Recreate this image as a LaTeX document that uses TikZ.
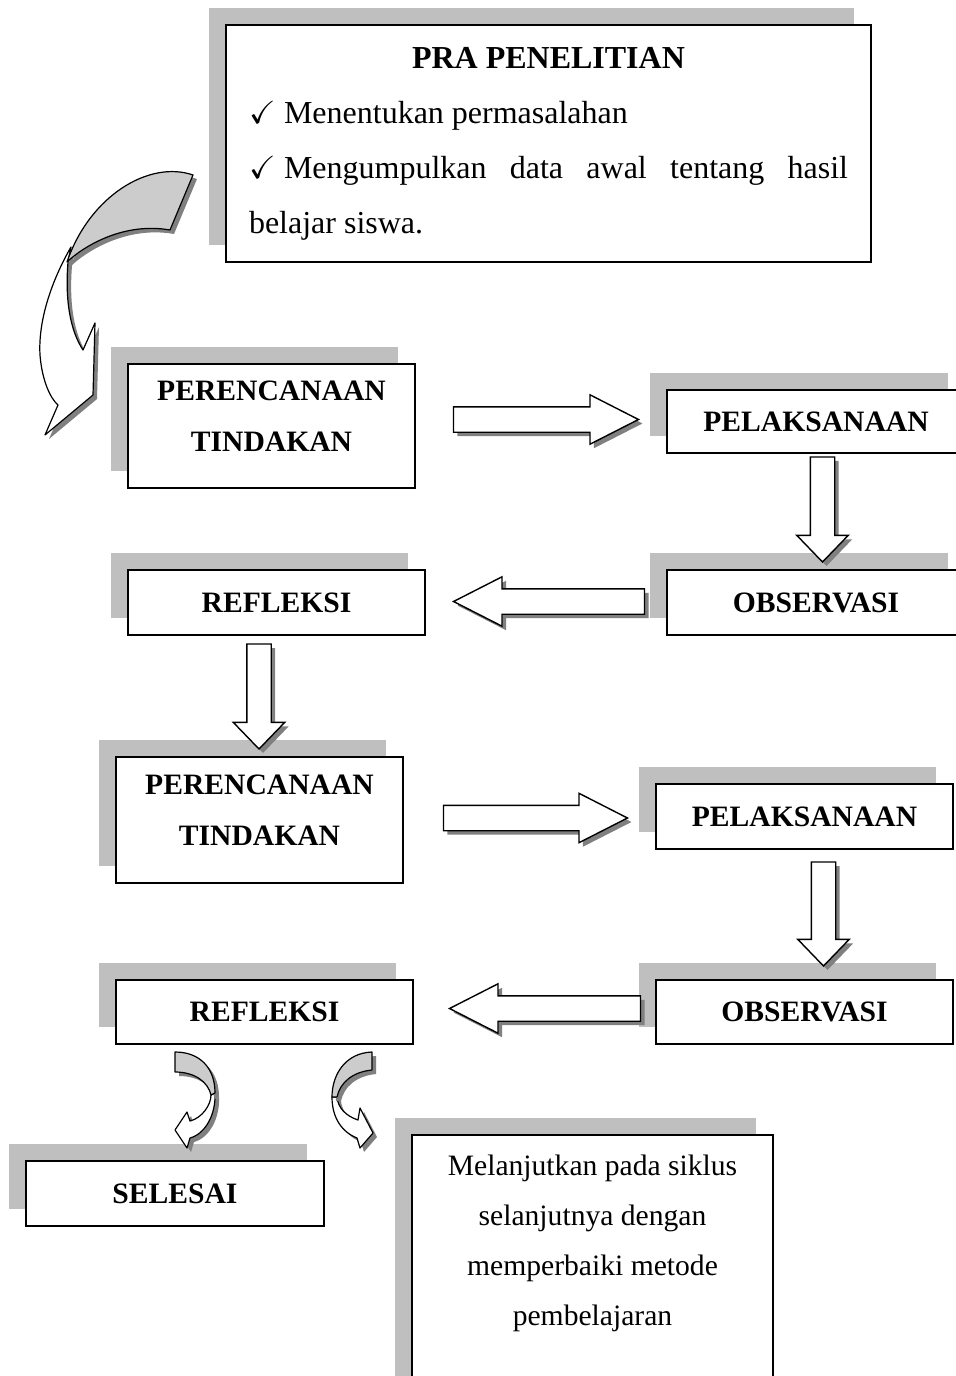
\documentclass[tikz,border=0pt]{standalone}
\usepackage{fontspec}
\setmainfont{Liberation Serif}
\usepackage{amssymb}
\usetikzlibrary{shapes.arrows,shadows}

\tikzset{
  stepbox/.style={draw, line width=0.75pt, fill=white, inner sep=0pt,
    font=\fontsize{14.8}{25.5}\selectfont\bfseries, align=center,
    general shadow={fill=gray!50, shadow xshift=-8.5pt, shadow yshift=8.5pt}},
  notebox/.style={stepbox, font=\fontsize{14.8}{25}\selectfont},
  harrow/.style={single arrow, draw, line width=0.7pt, fill=white, anchor=tip,
    inner xsep=0pt, inner ysep=6pt, single arrow head extend=6pt,
    single arrow tip angle=54,
    general shadow={fill=gray, shadow xshift=2pt, shadow yshift=-2pt}},
  varrow/.style={harrow, inner xsep=5.75pt, inner ysep=0pt, single arrow head extend=6.75pt,
    single arrow tip angle=88, shape border rotate=270},
  bendarrow/.style={draw, line width=0.6pt, line join=round,
    general shadow={fill=gray, shadow xshift=2pt, shadow yshift=-2pt}},
}

\begin{document}
\begin{tikzpicture}[x=0.5pt, y=-0.5pt]
  \useasboundingbox (0,0) rectangle (955,1376);

  % pra penelitian
  \node [stepbox, font=\fontsize{16}{27.5}\selectfont, align=justify,
    text width=299.5pt, inner xsep=11.5pt, minimum height=118.5pt] (pra) at (548.5,143.5) {%
    \tolerance=9999
    {\centering\bfseries PRA PENELITIAN\par}
    \hangindent=17.5pt\hangafter=1\noindent\makebox[17.5pt][l]{$\checkmark$}Menentukan permasalahan\par
    \hangindent=17.5pt\hangafter=1\noindent\makebox[17.5pt][l]{$\checkmark$}Mengumpulkan data awal tentang hasil \mbox{belajar} siswa.};

  % siklus I
  \node [stepbox, text depth=10pt, minimum width=143.5pt, minimum height=62pt] (per1) at (271.5,426) {PERENCANAAN\\TINDAKAN};
  \node [stepbox, minimum width=149pt, minimum height=31.5pt] (pel1) at (816,421.5) {PELAKSANAAN};
  \node [stepbox, minimum width=149pt, minimum height=32.5pt] (obs1) at (816,602.5) {OBSERVASI};
  \node [stepbox, minimum width=148.5pt, minimum height=32.5pt] (ref1) at (276.5,602.5) {REFLEKSI};

  % siklus II
  \node [stepbox, text depth=10pt, minimum width=143.5pt, minimum height=63pt] (per2) at (259.5,820) {PERENCANAAN\\TINDAKAN};
  \node [stepbox, minimum width=148.5pt, minimum height=32.5pt] (pel2) at (804.5,816.5) {PELAKSANAAN};
  \node [stepbox, minimum width=148.5pt, minimum height=32pt] (obs2) at (804.5,1012) {OBSERVASI};
  \node [stepbox, minimum width=148.5pt, minimum height=32pt] (ref2) at (264.5,1012) {REFLEKSI};

  % akhir
  \node [stepbox, minimum width=149pt, minimum height=32.5pt] (sel) at (175,1193.5) {SELESAI};
  \node [notebox, minimum width=180.5pt, minimum height=130pt] (lanjut) at (592.5,1265)
    {Melanjutkan pada siklus\\selanjutnya dengan\\memperbaiki metode\\pembelajaran\\ \mbox{}};

  % block arrows
  \node [harrow, minimum height=92.5pt] (a1) at (640,419.5) {};
  \node [varrow, minimum height=52.5pt] (a2) at (822.5,563) {};
  \node [harrow, shape border rotate=180, minimum height=95.5pt] (a3) at (452,601.5) {};
  \node [varrow, general shadow={opacity=0}, minimum height=52.5pt] (a4) at (259,750) {};
  \node [harrow, minimum height=92pt] (a5) at (629,818) {};
  \node [varrow, minimum height=52pt] (a6) at (823.5,967) {};
  \node [harrow, shape border rotate=180, minimum height=95.5pt] (a7) at (448,1008.5) {};

  % bent arrow pra -> per1
  \filldraw [bendarrow, fill=white] (71,247) .. controls (52,280) and (38,320) .. (40,355)
    .. controls (42,380) and (50,398) .. (58,405) -- (45,435) -- (93,395) -- (95,323) -- (83,350)
    .. controls (70,330) and (65,300) .. (68,262) -- cycle;
  \filldraw [bendarrow, fill=gray!40] (193,175) .. controls (150,160) and (90,195) .. (67,262)
    .. controls (85,245) and (125,222) .. (170,230) -- cycle;

  % bent arrow ref2 -> sel
  \filldraw [bendarrow, fill=white] (215,1093) .. controls (216,1115) and (205,1134) .. (190,1138)
    -- (187,1148) -- (175,1130) -- (187,1112) -- (190,1121)
    .. controls (202,1118) and (211,1105) .. (211,1095) -- cycle;
  \filldraw [bendarrow, fill=gray!40] (175,1052) .. controls (200,1052) and (215,1068) .. (215,1093)
    -- (211,1095) .. controls (208,1082) and (195,1072) .. (175,1072) -- cycle;

  % bent arrow ref2 -> lanjut
  \filldraw [bendarrow, fill=white] (332,1097) .. controls (332,1118) and (342,1132) .. (357,1138)
    -- (360,1148) -- (373,1133) -- (360,1108) -- (358,1120)
    .. controls (346,1116) and (338,1108) .. (337,1097) -- cycle;
  \filldraw [bendarrow, fill=gray!40] (372,1052) .. controls (345,1053) and (332,1075) .. (332,1097)
    -- (337,1097) .. controls (340,1083) and (352,1072) .. (372,1070) -- cycle;
\end{tikzpicture}
\end{document}
